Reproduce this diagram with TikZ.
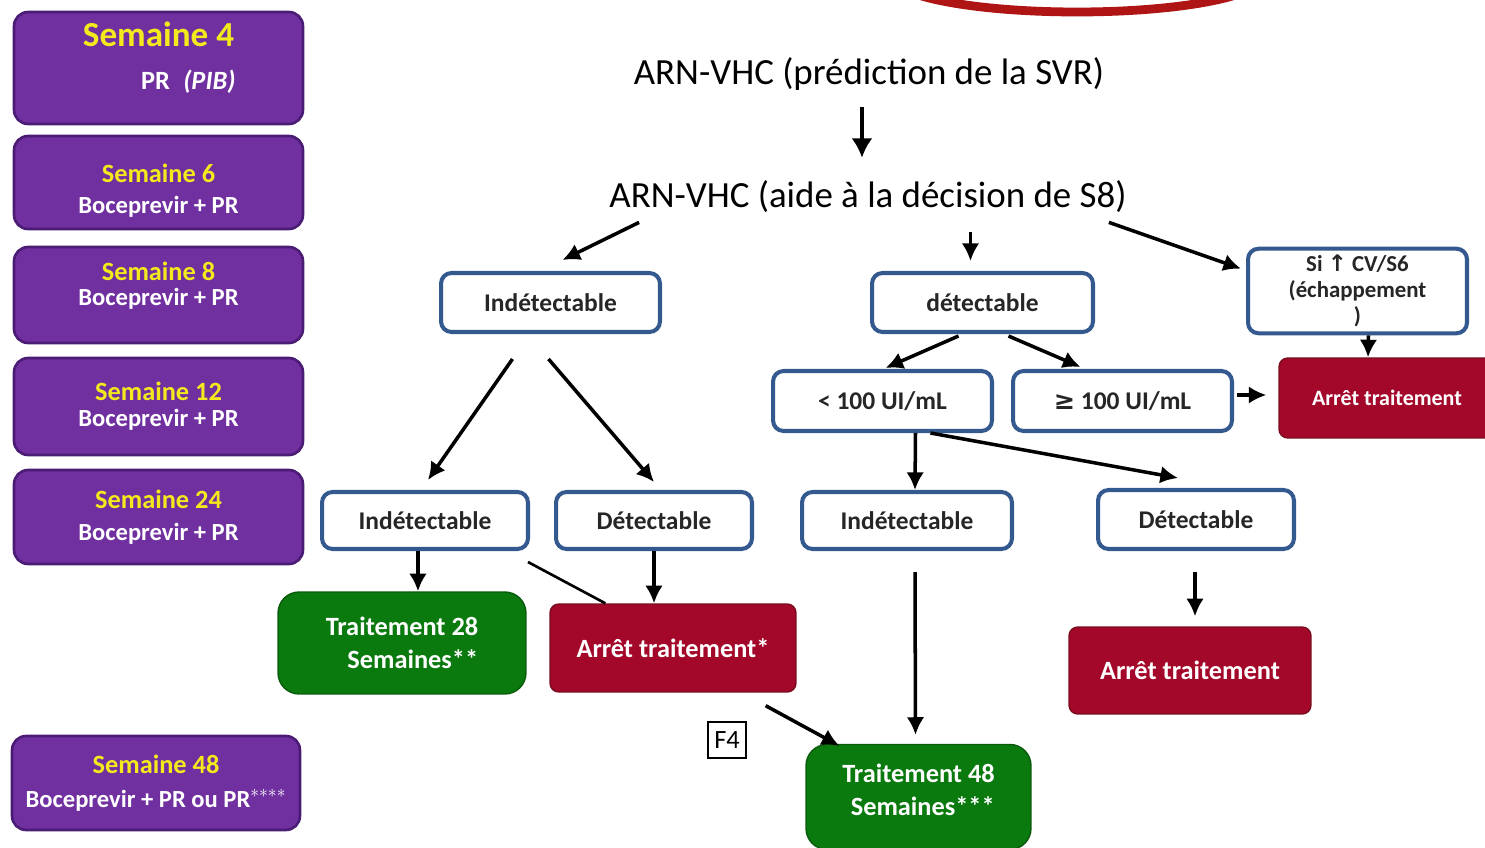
\documentclass[tikz,border=0pt]{standalone}
\usepackage{fontspec}
\setmainfont{Carlito}
\newfontfamily\symfont{DejaVu Sans}
\usetikzlibrary{arrows.meta, positioning, calc}

\definecolor{weekpurple}{HTML}{7030A0}
\definecolor{weekedge}{HTML}{4A1C74}
\definecolor{weekyellow}{HTML}{F2EA1C}
\definecolor{testblue}{HTML}{34598F}
\definecolor{stopred}{HTML}{A3082A}
\definecolor{stopedge}{HTML}{7A0A1E}
\definecolor{goodgreen}{HTML}{0A7A0E}
\definecolor{goodedge}{HTML}{0A5A0C}
\definecolor{ringred}{HTML}{B01515}

\begin{document}
\begin{tikzpicture}[
  x=0.02cm, y=-0.02cm,
  week/.style = {draw=weekedge, line width=1.5pt, fill=weekpurple, rounded corners=8pt, minimum width=5.78cm, align=center, text=white, inner sep=0pt, font=\bfseries\fontsize{14}{18}\selectfont},
  test/.style = {draw=testblue, line width=2.3pt, fill=white, rounded corners=6pt, minimum height=1.18cm, align=center, text=black!85, font=\bfseries\fontsize{14.5}{16}\selectfont},
  stop/.style = {draw=stopedge, line width=0.8pt, fill=stopred, rounded corners=5pt, text=white, font=\bfseries\fontsize{15}{17}\selectfont},
  cont/.style = {draw=goodedge, line width=0.8pt, fill=goodgreen, rounded corners=12pt, text=white, align=right, font=\bfseries\fontsize{15}{19}\selectfont},
  title/.style = {inner sep=0pt, font=\fontsize{21}{24}\selectfont},
  arrow/.style = {line width=2pt, -{Latex[length=10pt, width=10pt]}},
  bigarrow/.style = {line width=2.6pt, -{Latex[length=11pt, width=12pt]}}
]
  \useasboundingbox (0,0) rectangle (1485,848);

  % red ring cut by the top edge
  \begin{scope}
    \clip (0,0) rectangle (1485,848);
    \draw[ringred, line width=5pt] (1077,-23) ellipse [x radius=3.7cm, y radius=0.7cm];
  \end{scope}

  % weeks
  \node[week, minimum height=2.24cm] (s4) at (158.5,68)
    {{\color{weekyellow}\fontsize{20}{24}\selectfont Semaine 4}\\[6pt]
     {\fontsize{15}{18}\selectfont\hspace*{34pt}PR\enspace\textit{(PIB)}\rule[-14pt]{0pt}{14pt}}};
  \node[week, minimum height=1.86cm] (s6) at (158.5,182.5)
    {{\color{weekyellow}\fontsize{15}{18}\selectfont\rule{0pt}{20pt}Semaine 6}\\ Boceprevir + PR};
  \node[week, minimum height=1.92cm] (s8) at (158.5,295)
    {{\color{weekyellow}\fontsize{15}{18}\selectfont Semaine 8}\\[-4pt] Boceprevir + PR\rule[-13pt]{0pt}{13pt}};
  \node[week, minimum height=1.94cm] (s12) at (158.5,406.5)
    {{\color{weekyellow}\fontsize{15}{18}\selectfont Semaine 12}\\[-3pt] Boceprevir + PR};
  \node[week, minimum height=1.88cm] (s24) at (158.5,517)
    {{\color{weekyellow}\fontsize{15}{18}\selectfont Semaine 24}\\ Boceprevir + PR};
  \node[week, minimum height=1.88cm, minimum width=5.76cm] (s48) at (156,783)
    {{\color{weekyellow}\fontsize{15}{18}\selectfont Semaine 48}\\[1pt] Boceprevir + PR ou PR$^{****}$};

  % titles
  \node[title] (t1) at (869,74) {ARN-VHC (prédiction de la SVR)};
  \node[title] (t2) at (868,197) {ARN-VHC (aide à la décision de S8)};

  % tests
  \node[test, minimum width=4.38cm] (ind1) at (550.5,302.5) {Indétectable};
  \node[test, minimum width=4.42cm] (det1) at (982.5,302.5) {détectable};
  \node[test, minimum width=4.38cm, minimum height=1.64cm, font=\bfseries\fontsize{13}{15}\selectfont] (si) at (1357.5,291)
    {Si {\symfont\bfseries ↑} CV/S6\\(échappement\\)};
  \node[test, minimum width=4.38cm, minimum height=1.2cm] (low) at (882.5,401) {< 100 UI/mL};
  \node[test, minimum width=4.38cm, minimum height=1.2cm] (high) at (1122.5,401) {{\symfont ≥} 100 UI/mL};
  \node[test, minimum width=4.12cm, minimum height=1.14cm] (ind2) at (425,520.5) {Indétectable};
  \node[test, minimum width=3.92cm, minimum height=1.14cm] (det2) at (654,520.5) {Détectable};
  \node[test, minimum width=4.2cm, minimum height=1.14cm] (ind3) at (907,520.5) {Indétectable};
  \node[test, minimum width=3.92cm] (det3) at (1196,519.5) {Détectable};

  % outcomes
  \node[stop, minimum width=4.32cm, minimum height=1.6cm, font=\bfseries\fontsize{12.5}{14}\selectfont] (stopA) at (1387,398) {Arrêt traitement};
  \node[stop, minimum width=4.92cm, minimum height=1.76cm] (stopB) at (673,648) {Arrêt traitement*};
  \node[stop, minimum width=4.84cm, minimum height=1.74cm] (stopC) at (1190,670.5) {Arrêt traitement};
  \node[cont, minimum width=4.96cm, minimum height=2.04cm] (tr28) at (402,643) {Traitement 28\\Semaines**};
  \node[cont, minimum width=4.5cm, minimum height=2.1cm] (tr48) at (918.5,797) {Traitement 48\\Semaines***\rule[-8pt]{0pt}{8pt}};

  \node[draw, line width=0.8pt, inner sep=0pt, minimum width=0.76cm, minimum height=0.72cm, font=\fontsize{15}{15}\selectfont] (f4) at (727,740) {F4};

  % arrows
  \draw[bigarrow, shorten <=9pt, shorten >=13pt] ([xshift=-4pt]t1.south) -- ([xshift=-4pt]t1.south |- t2.north);
  \draw[arrow] ($(t2.south west)+(30,9)$) -- ($(ind1.north)+(12,-11)$);
  \draw[arrow] ($(det1.north)+(-12,-39)$) -- ($(det1.north)+(-12,-10)$);
  \draw[arrow] ($(t2.south east)+(-18,9)$) -- ($(si.north west)+(-5,22)$);

  \draw[arrow] ($(ind1.south)+(-38,25)$) -- ($(ind2.north)+(3,-10)$);
  \draw[arrow] ($(ind1.south)+(-2,25)$) -- ($(det2.north)+(0,-8)$);
  \draw[arrow] ([xshift=-4pt]ind2.south) -- ([xshift=-4pt]ind2.south |- tr28.north);
  \draw[arrow] (det2.south) -- (det2.south |- stopB.north);
  \draw[line width=1.5pt] ($(ind2.south east)+(-2,11)$) -- ($(stopB.north west)+(56,0)$);

  \draw[arrow] ($(det1.south)+(-24,2)$) -- ($(low.north)+(3,-1)$);
  \draw[arrow] ($(det1.south)+(26,2)$) -- ($(high.north)+(-42,-2)$);
  \draw[arrow] ($(high.east)+(3,-6)$) -- ($(stopA.west)+(-12,-3)$);
  \draw[arrow] ($(si.south)+(11,0)$) -- ($(stopA.north)+(-19,0)$);

  \draw[arrow] ($(low.south)+(33,0)$) -- ($(ind3.north)+(8,0)$);
  \draw[arrow] ($(low.south)+(48,0)$) -- ($(det3.north)+(-18,-10)$);
  \draw[arrow] ($(ind3.south)+(8,21)$) -- ($(tr48.north)+(-3,-9)$);
  \draw[arrow] ($(det3.south)+(-1,21)$) -- ($(stopC.north)+(5,-10)$);
  \draw[arrow] ($(stopB.south east)+(-31,13)$) -- ($(tr48.north west)+(34,2)$);
\end{tikzpicture}
\end{document}
